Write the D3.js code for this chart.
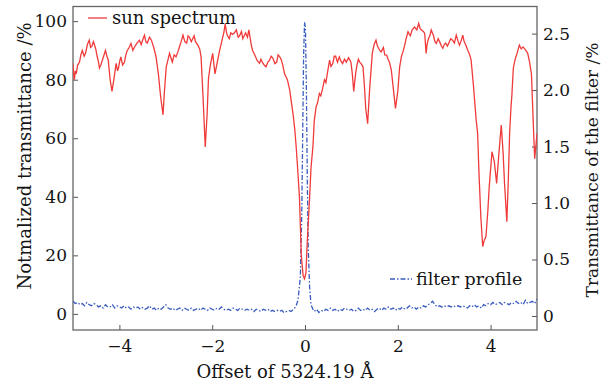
<!DOCTYPE html>
<html>
<head>
<meta charset="utf-8">
<script src="https://cdn.jsdelivr.net/npm/d3@7"></script>
<style>
	body { margin: 0; background: #fff; }
	text { font-family: "DejaVu Serif", serif; fill: #141414; }
</style>
</head>
<body>
<svg width="607" height="383"></svg>
<script>
// sun spectrum: [offset in Å, normalized transmittance %]
const sunSpectrum = [
	[-5.00, 85.5], [-4.98, 81], [-4.97, 80], [-4.95, 83], [-4.93, 82], [-4.90, 85], [-4.86, 86], [-4.83, 88.5],
	[-4.80, 90], [-4.76, 88], [-4.73, 89], [-4.69, 92], [-4.65, 93.5], [-4.62, 91], [-4.59, 91.5], [-4.56, 93],
	[-4.54, 92], [-4.51, 90.5], [-4.48, 88], [-4.45, 86], [-4.43, 84], [-4.40, 85], [-4.38, 86], [-4.34, 88],
	[-4.30, 90], [-4.27, 88], [-4.24, 86.7], [-4.20, 80], [-4.16, 76], [-4.12, 80], [-4.07, 85.6], [-4.04, 83],
	[-4.02, 84], [-3.99, 86.5], [-3.97, 87.8], [-3.93, 85], [-3.89, 86], [-3.86, 88.5], [-3.83, 90], [-3.79, 91],
	[-3.75, 92.4], [-3.71, 90], [-3.68, 91], [-3.62, 92.5], [-3.57, 93.5], [-3.53, 92], [-3.49, 94], [-3.46, 95.2],
	[-3.43, 93], [-3.40, 92.5], [-3.35, 94.5], [-3.31, 93.5], [-3.26, 91], [-3.21, 87.8], [-3.16, 82], [-3.11, 74],
	[-3.06, 68], [-3.03, 76], [-2.99, 84.4], [-2.95, 87], [-2.92, 89], [-2.89, 87.5], [-2.86, 86], [-2.82, 88.5],
	[-2.78, 87.8], [-2.74, 89.5], [-2.71, 91], [-2.67, 93], [-2.63, 95.2], [-2.59, 93], [-2.55, 92.5], [-2.52, 95],
	[-2.49, 94.5], [-2.45, 93], [-2.42, 94], [-2.39, 95], [-2.36, 93], [-2.31, 91.8], [-2.27, 90.5], [-2.24, 87.8],
	[-2.20, 75], [-2.15, 57], [-2.11, 68], [-2.08, 80.4], [-2.04, 85], [-1.99, 89], [-1.94, 82], [-1.89, 86],
	[-1.84, 90], [-1.81, 92], [-1.78, 94], [-1.75, 96], [-1.72, 99], [-1.69, 96], [-1.67, 95], [-1.63, 94],
	[-1.60, 96], [-1.56, 95.5], [-1.52, 96], [-1.48, 97], [-1.44, 94.5], [-1.41, 95], [-1.37, 96.5], [-1.34, 94],
	[-1.31, 95], [-1.28, 96], [-1.24, 94.5], [-1.21, 97], [-1.18, 94], [-1.16, 92], [-1.13, 90], [-1.10, 89],
	[-1.07, 88], [-1.03, 86.5], [-0.98, 85.6], [-0.95, 87], [-0.92, 86], [-0.88, 85], [-0.84, 84.4], [-0.80, 86],
	[-0.77, 86.5], [-0.73, 88], [-0.69, 87.3], [-0.65, 85.5], [-0.61, 86], [-0.58, 88.5], [-0.55, 88], [-0.51, 86.7],
	[-0.48, 85], [-0.44, 82], [-0.41, 81], [-0.38, 80], [-0.33, 76.5], [-0.30, 73], [-0.26, 68.6], [-0.22, 63],
	[-0.19, 57], [-0.16, 50], [-0.12, 40], [-0.08, 20], [-0.04, 13], [-0.01, 12], [0.02, 14], [0.05, 25],
	[0.10, 40], [0.13, 50], [0.17, 57], [0.20, 66], [0.24, 70.8], [0.27, 72], [0.31, 75.3], [0.34, 74.5],
	[0.38, 77], [0.42, 80], [0.45, 79], [0.48, 82], [0.53, 86.7], [0.56, 84.5], [0.60, 85.6], [0.63, 88],
	[0.66, 88], [0.70, 86], [0.74, 87.8], [0.77, 86.5], [0.81, 85.5], [0.85, 87], [0.89, 86], [0.94, 87.5],
	[0.99, 86], [1.02, 82], [1.05, 76], [1.09, 82], [1.12, 85], [1.15, 87], [1.18, 86], [1.21, 85.5],
	[1.25, 84.4], [1.28, 78], [1.31, 70], [1.35, 65], [1.39, 76], [1.45, 89], [1.49, 92], [1.53, 93.5],
	[1.56, 91.5], [1.58, 91], [1.61, 90], [1.64, 89.5], [1.69, 91], [1.72, 88.5], [1.76, 88.4], [1.79, 87],
	[1.82, 86], [1.86, 83.3], [1.91, 76], [1.95, 70.2], [2.00, 76], [2.04, 84.4], [2.08, 88], [2.11, 89.5],
	[2.14, 91.2], [2.18, 94], [2.22, 96.4], [2.25, 95.5], [2.27, 95], [2.31, 97], [2.36, 98], [2.41, 97],
	[2.45, 99.2], [2.48, 97.5], [2.51, 97], [2.55, 96.5], [2.58, 95.8], [2.61, 89], [2.63, 92], [2.66, 94],
	[2.69, 95], [2.72, 97], [2.77, 95], [2.80, 93], [2.83, 92.4], [2.87, 94], [2.90, 93], [2.94, 91.5],
	[2.97, 90.7], [3.00, 92], [3.03, 92.5], [3.07, 91.5], [3.11, 92.9], [3.14, 94], [3.18, 93.5], [3.22, 92.5],
	[3.26, 95.2], [3.30, 93], [3.33, 91.8], [3.37, 93.5], [3.40, 95.2], [3.43, 93], [3.46, 92], [3.51, 90],
	[3.55, 88.5], [3.58, 86.7], [3.63, 78], [3.69, 66], [3.72, 61.7], [3.75, 48], [3.79, 33], [3.83, 23],
	[3.86, 25], [3.90, 26.4], [3.94, 35], [3.97, 43.4], [4.03, 55.4], [4.08, 52], [4.13, 44.6], [4.18, 55],
	[4.23, 64.5], [4.27, 55], [4.30, 44.6], [4.35, 31.5], [4.38, 45], [4.41, 61.7], [4.44, 70.8], [4.46, 75],
	[4.49, 84], [4.53, 87], [4.57, 89], [4.62, 91.8], [4.66, 90.5], [4.70, 91.2], [4.76, 90], [4.80, 89],
	[4.84, 86], [4.88, 82], [4.92, 65], [4.95, 53], [4.98, 58], [5.00, 61.7]
];

// filter profile: [offset in Å, filter transmittance %]
const filterProfile = [
	[-5.00, 0.13], [-4.95, 0.11], [-4.90, 0.12], [-4.85, 0.10], [-4.80, 0.11], [-4.75, 0.09], [-4.70, 0.12],
	[-4.65, 0.10], [-4.60, 0.09], [-4.55, 0.11], [-4.50, 0.10], [-4.45, 0.08], [-4.40, 0.09], [-4.35, 0.07],
	[-4.30, 0.10], [-4.25, 0.08], [-4.20, 0.08], [-4.15, 0.10], [-4.10, 0.07], [-4.05, 0.09], [-4.00, 0.08],
	[-3.95, 0.07], [-3.90, 0.09], [-3.85, 0.07], [-3.80, 0.08], [-3.75, 0.06], [-3.70, 0.08], [-3.65, 0.07],
	[-3.60, 0.08], [-3.55, 0.06], [-3.50, 0.075], [-3.45, 0.06], [-3.40, 0.07], [-3.35, 0.09], [-3.30, 0.06],
	[-3.25, 0.07], [-3.20, 0.05], [-3.15, 0.07], [-3.10, 0.06], [-3.05, 0.08], [-3.00, 0.10], [-2.95, 0.07],
	[-2.90, 0.06], [-2.85, 0.07], [-2.80, 0.05], [-2.75, 0.06], [-2.70, 0.07], [-2.65, 0.05], [-2.60, 0.07],
	[-2.55, 0.06], [-2.50, 0.05], [-2.45, 0.07], [-2.40, 0.05], [-2.35, 0.06], [-2.30, 0.07], [-2.25, 0.05],
	[-2.20, 0.07], [-2.15, 0.06], [-2.10, 0.05], [-2.05, 0.07], [-2.00, 0.06], [-1.95, 0.05], [-1.90, 0.07],
	[-1.85, 0.06], [-1.80, 0.08], [-1.75, 0.06], [-1.70, 0.05], [-1.65, 0.06], [-1.60, 0.05], [-1.55, 0.07],
	[-1.50, 0.06], [-1.45, 0.05], [-1.40, 0.07], [-1.35, 0.06], [-1.30, 0.05], [-1.25, 0.06], [-1.20, 0.05],
	[-1.15, 0.06], [-1.10, 0.04], [-1.05, 0.06], [-1.00, 0.05], [-0.95, 0.04], [-0.90, 0.06], [-0.85, 0.05],
	[-0.80, 0.06], [-0.75, 0.04], [-0.70, 0.05], [-0.65, 0.04], [-0.60, 0.05], [-0.55, 0.04], [-0.50, 0.05],
	[-0.45, 0.03], [-0.40, 0.04], [-0.35, 0.05], [-0.30, 0.04], [-0.25, 0.06], [-0.20, 0.08], [-0.15, 0.14],
	[-0.10, 0.35], [-0.07, 0.9], [-0.05, 1.6], [-0.03, 2.3], [-0.01, 2.6], [0.01, 2.55], [0.03, 2.0],
	[0.05, 1.2], [0.07, 0.6], [0.10, 0.25], [0.13, 0.10], [0.17, 0.06], [0.20, 0.04], [0.25, 0.06],
	[0.30, 0.03], [0.35, 0.05], [0.40, 0.04], [0.45, 0.06], [0.50, 0.05], [0.55, 0.07], [0.60, 0.05],
	[0.65, 0.06], [0.70, 0.04], [0.75, 0.06], [0.80, 0.05], [0.85, 0.07], [0.90, 0.06], [0.95, 0.05],
	[1.00, 0.06], [1.05, 0.04], [1.10, 0.05], [1.15, 0.07], [1.20, 0.05], [1.25, 0.06], [1.30, 0.05],
	[1.35, 0.07], [1.40, 0.05], [1.45, 0.06], [1.50, 0.04], [1.55, 0.06], [1.60, 0.07], [1.65, 0.05],
	[1.70, 0.07], [1.75, 0.06], [1.80, 0.08], [1.85, 0.06], [1.90, 0.07], [1.95, 0.05], [2.00, 0.07],
	[2.05, 0.06], [2.10, 0.08], [2.15, 0.06], [2.20, 0.07], [2.25, 0.09], [2.30, 0.07], [2.35, 0.08],
	[2.40, 0.06], [2.45, 0.08], [2.50, 0.07], [2.55, 0.09], [2.60, 0.08], [2.65, 0.10], [2.70, 0.11],
	[2.75, 0.13], [2.80, 0.10], [2.85, 0.08], [2.90, 0.09], [2.95, 0.08], [3.00, 0.09], [3.05, 0.08],
	[3.10, 0.09], [3.15, 0.08], [3.20, 0.09], [3.25, 0.08], [3.30, 0.09], [3.35, 0.08], [3.40, 0.09],
	[3.45, 0.08], [3.50, 0.07], [3.55, 0.09], [3.60, 0.08], [3.65, 0.10], [3.70, 0.08], [3.75, 0.09],
	[3.80, 0.07], [3.85, 0.10], [3.90, 0.09], [3.95, 0.11], [4.00, 0.10], [4.05, 0.12], [4.10, 0.10],
	[4.15, 0.11], [4.20, 0.12], [4.25, 0.10], [4.30, 0.12], [4.35, 0.11], [4.40, 0.10], [4.45, 0.12],
	[4.50, 0.11], [4.55, 0.13], [4.60, 0.11], [4.65, 0.12], [4.70, 0.10], [4.75, 0.14], [4.80, 0.11],
	[4.85, 0.12], [4.90, 0.13], [4.95, 0.11], [5.00, 0.15]
];

const xTicks = [-4, -2, 0, 2, 4];
const leftTicks = [0, 20, 40, 60, 80, 100];
const rightTicks = [0, 0.5, 1.0, 1.5, 2.0, 2.5];

const svg = d3.select("svg");
const width = +svg.attr("width");
const height = +svg.attr("height");

const render = () => {
	const margin = { top: 6.5, right: 70, bottom: 53, left: 73 };
	const innerWidth = width - margin.left - margin.right;
	const innerHeight = height - margin.top - margin.bottom;

	const xScale = d3.scaleLinear().domain([-5, 5]).range([0, innerWidth]);
	const yLeft = d3.scaleLinear().domain([-5.5, 105]).range([innerHeight, 0]);
	const yRight = d3.scaleLinear().domain([-0.124, 2.74]).range([innerHeight, 0]);

	const g = svg.append("g")
		.attr("transform", `translate(${margin.left}, ${margin.top})`);

	const styleAxis = sel => {
		sel.select(".domain").remove();
		sel.selectAll(".tick line").attr("stroke", "#555").attr("stroke-width", 1);
		sel.selectAll(".tick text").attr("font-size", 17).attr("font-family", "DejaVu Serif").attr("fill", "#141414");
	};

	g.append("g")
		.attr("transform", `translate(0, ${innerHeight})`)
		.call(d3.axisBottom(xScale).tickValues(xTicks).tickSize(-5).tickPadding(10))
		.call(styleAxis);

	g.append("g")
		.call(d3.axisLeft(yLeft).tickValues(leftTicks).tickSize(-5).tickPadding(6))
		.call(styleAxis);

	g.append("g")
		.attr("transform", `translate(${innerWidth}, 0)`)
		.call(d3.axisRight(yRight).tickValues(rightTicks).tickSize(-5).tickPadding(6)
			.tickFormat(d => d === 0 ? "0" : d.toFixed(1)))
		.call(styleAxis);

	// frame
	g.append("rect")
		.attr("width", innerWidth)
		.attr("height", innerHeight)
		.attr("fill", "none")
		.attr("stroke", "#666")
		.attr("stroke-width", 1.3);

	g.append("clipPath").attr("id", "clip")
		.append("rect").attr("width", innerWidth).attr("height", innerHeight);

	const sunLine = d3.line().x(d => xScale(d[0])).y(d => yLeft(d[1]));
	const filterLine = d3.line().x(d => xScale(d[0])).y(d => yRight(d[1]));

	g.append("path")
		.datum(filterProfile)
		.attr("clip-path", "url(#clip)")
		.attr("d", filterLine)
		.attr("fill", "none")
		.attr("stroke", "#3a5cc0")
		.attr("stroke-width", 1.3)
		.attr("stroke-dasharray", "5,2,1.5,2");

	g.append("path")
		.datum(sunSpectrum)
		.attr("clip-path", "url(#clip)")
		.attr("d", sunLine)
		.attr("fill", "none")
		.attr("stroke", "#f03a3a")
		.attr("stroke-width", 1.3);

	// legends
	svg.append("line")
		.attr("x1", 88).attr("x2", 107).attr("y1", 18).attr("y2", 18)
		.attr("stroke", "#f03a3a").attr("stroke-width", 1.3);
	svg.append("text")
		.attr("x", 112).attr("y", 24)
		.attr("font-size", 18)
		.text("sun spectrum");

	svg.append("line")
		.attr("x1", 390).attr("x2", 412).attr("y1", 279).attr("y2", 279)
		.attr("stroke", "#3a5cc0").attr("stroke-width", 1.3)
		.attr("stroke-dasharray", "5,2,1.5,2");
	svg.append("text")
		.attr("x", 416).attr("y", 285)
		.attr("font-size", 17.5)
		.text("filter profile");

	// axis titles
	svg.append("text")
		.attr("x", 285).attr("y", 378)
		.attr("text-anchor", "middle")
		.attr("font-size", 18)
		.text("Offset of 5324.19 Å");

	svg.append("text")
		.attr("transform", "translate(31, 156) rotate(-90)")
		.attr("text-anchor", "middle")
		.attr("font-size", 18)
		.text("Notmalized transmittance /%");

	svg.append("text")
		.attr("transform", "translate(598, 170) rotate(-90)")
		.attr("text-anchor", "middle")
		.attr("font-size", 17)
		.text("Transmittance of the filter /%");
};

render();
</script>
</body>
</html>
